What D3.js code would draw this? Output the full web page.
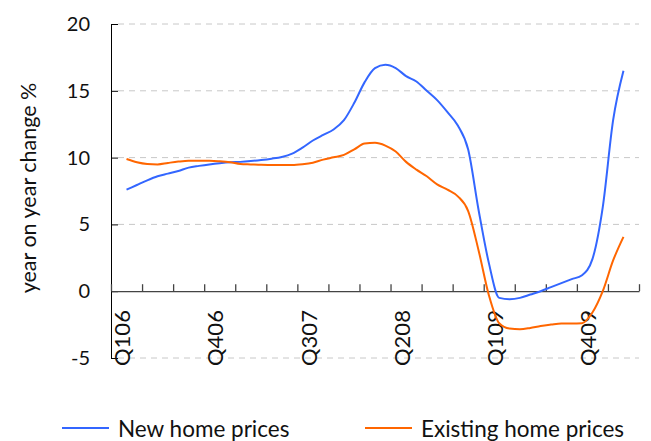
<!DOCTYPE html>
<html>
<head>
<meta charset="utf-8">
<script src="https://cdn.jsdelivr.net/npm/d3@7"></script>
<style>
  body { margin: 0; background: #fff; }
  text { font-family: Lato, "Open Sans", sans-serif; fill: #111; }
</style>
</head>
<body>
<script>
// quarters on the category axis (labels drawn every 3rd)
var quarters = ["Q106","Q206","Q306","Q406","Q107","Q207","Q307","Q407",
                "Q108","Q208","Q308","Q408","Q109","Q209","Q309","Q409","Q110"];

// monthly year on year change, %
var newHome = [7.6, 7.95, 8.3, 8.6, 8.8, 9.0, 9.25, 9.38, 9.49, 9.58, 9.65, 9.68,
               9.74, 9.82, 9.92, 10.05, 10.3, 10.75, 11.28, 11.7, 12.1, 12.8, 14.1, 15.65,
               16.7, 16.95, 16.7, 16.1, 15.7, 15.0, 14.3, 13.4, 12.4, 10.6, 6.1, 2.1,
               -0.5, -0.6, -0.5, -0.25, 0.0, 0.3, 0.6, 0.9, 1.2, 2.4, 6.3, 12.8, 16.5];

var existing = [9.89, 9.65, 9.52, 9.49, 9.6, 9.7, 9.76, 9.76, 9.76, 9.72, 9.65, 9.52,
                9.49, 9.46, 9.45, 9.44, 9.44, 9.5, 9.62, 9.85, 10.02, 10.2, 10.62, 11.05,
                11.11, 10.9, 10.45, 9.68, 9.1, 8.6, 8.0, 7.6, 7.1, 6.0, 3.07, -0.3,
                -2.4, -2.8, -2.85, -2.75, -2.6, -2.5, -2.42, -2.42, -2.4, -1.6, 0.0, 2.3, 4.07];

var yTicks = [-5, 0, 5, 10, 15, 20];

var series = [
    {"name": "New home prices", "values": newHome, "color": "#3366ff"},
    {"name": "Existing home prices", "values": existing, "color": "#ff6600"}
];

var width = 651, height = 441;
var margin = {top: 24, right: 12, bottom: 83, left: 111};
var cWidth = width - margin.left - margin.right;
var cHeight = height - margin.top - margin.bottom;

var svg = d3.select("body").append("svg")
    .attr("width", width)
    .attr("height", height);

var g = svg.append("g")
    .attr("transform", "translate(" + margin.left + "," + margin.top + ")");

// scales
var xBand = d3.scaleBand().domain(quarters).range([0, cWidth]);
var xEdge = d3.scaleLinear().domain([0, quarters.length]).range([0, cWidth]);
var xMonth = d3.scaleLinear()
    .domain([0, newHome.length - 1])
    .range([xBand.bandwidth() / 2, cWidth - xBand.bandwidth() / 2]);
var y = d3.scaleLinear().domain([-5, 20]).range([cHeight, 0]);

// dashed gridlines
g.selectAll(".grid")
    .data(yTicks.filter(function(d) { return d != 0; }))
    .enter().append("line")
    .attr("x1", 7).attr("x2", cWidth)
    .attr("y1", function(d) { return y(d); })
    .attr("y2", function(d) { return y(d); })
    .attr("stroke", "#c8c8c8")
    .attr("stroke-dasharray", "6,5");

// y axis, ticks pointing inward
var yAxis = g.append("g")
    .call(d3.axisLeft(y).tickValues(yTicks).tickSize(-7).tickPadding(21).tickFormat(function(d) { return String(d); }));
yAxis.select(".domain").attr("stroke", "#000");
yAxis.selectAll(".tick line").attr("stroke", "#000");
yAxis.selectAll("text").style("font-size", "20px").attr("fill", "#111");

// x axis at zero, ticks pointing up
var xAxis = g.append("g")
    .attr("transform", "translate(0," + y(0) + ")")
    .call(d3.axisTop(xEdge).tickValues(d3.range(0, quarters.length + 1)).tickSize(7).tickSizeOuter(0).tickFormat(""));
xAxis.selectAll(".domain, .tick line").attr("stroke", "#444").attr("stroke-width", 1.3);

// rotated quarter labels
g.selectAll(".qlabel")
    .data(quarters.filter(function(d, i) { return i % 3 == 0; }))
    .enter().append("text")
    .attr("transform", function(d) {
        return "translate(" + (xBand(d) + xBand.bandwidth() / 2 - 4) + "," + (cHeight + 8) + ") rotate(-90)";
    })
    .attr("dy", "0.35em")
    .style("font-size", "22px")
    .text(function(d) { return d; });

// lines
var line = d3.line()
    .x(function(d, i) { return xMonth(i); })
    .y(function(d) { return y(d); })
    .curve(d3.curveMonotoneX);

series.forEach(function(s) {
    g.append("path")
        .datum(s.values)
        .attr("fill", "none")
        .attr("stroke", s.color)
        .attr("stroke-width", 2)
        .attr("d", line);
});

// y title
svg.append("text")
    .attr("transform", "translate(28," + (margin.top + cHeight / 2 - 3) + ") rotate(-90)")
    .attr("text-anchor", "middle")
    .attr("dy", "0.35em")
    .style("font-size", "21.5px")
    .text("year on year change %");

// legend
var legendX = [62, 365];
var leg = svg.selectAll(".legend")
    .data(series)
    .enter().append("g")
    .attr("transform", function(d, i) { return "translate(" + legendX[i] + ",428)"; });
leg.append("line")
    .attr("x1", 0).attr("x2", 47)
    .attr("stroke", function(d) { return d.color; })
    .attr("stroke-width", 2);
leg.append("text")
    .attr("x", 56)
    .attr("dy", "0.38em")
    .style("font-size", "22.5px")
    .text(function(d) { return d.name; });
</script>
</body>
</html>
